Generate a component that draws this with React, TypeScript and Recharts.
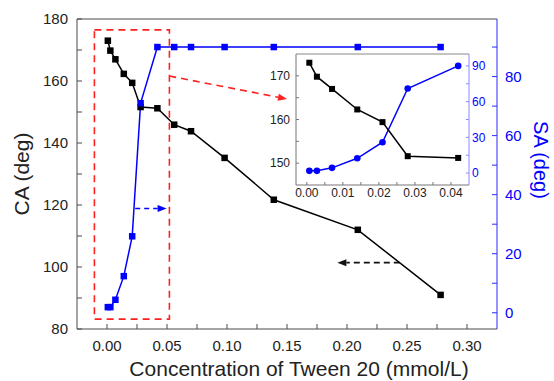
import { ComposedChart, Label, Line, ReferenceArea, ReferenceLine, XAxis, YAxis } from 'recharts'

// Tween 20 concentration (mmol/L) with contact angle and sliding angle
const concentration = [0.0007, 0.0028, 0.007, 0.014, 0.021, 0.028, 0.042, 0.056, 0.07, 0.098, 0.139, 0.209, 0.278]
const contactAngle = [173, 169.8, 167, 162.3, 159.4, 151.6, 151.2, 145.9, 143.8, 135.2, 121.7, 112, 91]
const slidingAngle = [1.9, 1.9, 4.4, 12.4, 25.9, 71, 90, 90, 90, 90, 90, 90, 90]

const xTicks = [0, 0.025, 0.05, 0.075, 0.1, 0.125, 0.15, 0.175, 0.2, 0.225, 0.25, 0.275, 0.3]
const xLabels = [0, 0.05, 0.1, 0.15, 0.2, 0.25, 0.3]
const caTicks = [80, 90, 100, 110, 120, 130, 140, 150, 160, 170, 180]
const caLabels = [80, 100, 120, 140, 160, 180]
const saTicks = [0, 10, 20, 30, 40, 50, 60, 70, 80, 90]
const saLabels = [0, 20, 40, 60, 80]

const insetXTicks = [0, 0.005, 0.01, 0.015, 0.02, 0.025, 0.03, 0.035, 0.04]
const insetXLabels = [0, 0.01, 0.02, 0.03, 0.04]
const insetCaTicks = [150, 155, 160, 165, 170]
const insetCaLabels = [150, 160, 170]
const insetSaTicks = [0, 15, 30, 45, 60, 75, 90]
const insetSaLabels = [0, 30, 60, 90]

const data = concentration.map((c, i) => ({ c, ca: contactAngle[i], sa: slidingAngle[i] }))
const insetData = data.slice(0, 7)

const FONT = '"Liberation Sans", Arial, sans-serif'
const BLUE = '#0000ff'
const AXIS = '#4a4a4a'
const TEXT = '#222'

const fmt = (labels: number[], digits: number) => (v: number) =>
  labels.some((l) => Math.abs(l - v) < 1e-9) ? v.toFixed(digits) : ''

const squareDot = (color: string, size: number) => (props: any) => {
  const { cx, cy, index } = props
  return <rect key={`sq-${index}`} x={cx - size / 2} y={cy - size / 2} width={size} height={size} fill={color} />
}

const circleDot = (color: string, r: number) => (props: any) => {
  const { cx, cy, index } = props
  return <circle key={`c-${index}`} cx={cx} cy={cy} r={r} fill={color} />
}

const arrowShape = (color: string, dash: string) => (props: any) => {
  const { x1, y1, x2, y2 } = props
  const ang = Math.atan2(y2 - y1, x2 - x1)
  const len = 9
  const w = 3.5
  const bx = x2 - len * Math.cos(ang)
  const by = y2 - len * Math.sin(ang)
  const px = -Math.sin(ang) * w
  const py = Math.cos(ang) * w
  return (
    <g>
      <line x1={x1} y1={y1} x2={bx} y2={by} stroke={color} strokeWidth={1.6} strokeDasharray={dash} />
      <polygon points={`${x2},${y2} ${bx + px},${by + py} ${bx - px},${by - py}`} fill={color} />
    </g>
  )
}

function MainChart() {
  return (
    <ComposedChart width={554} height={381} data={data} margin={{ top: 19, right: 0, bottom: 0, left: 0 }}>
      <XAxis
        dataKey="c"
        type="number"
        domain={[-0.025, 0.325]}
        ticks={xTicks}
        tickFormatter={fmt(xLabels, 2)}
        height={52}
        stroke={AXIS}
        tickSize={-5}
        tickMargin={16}
        tick={{ fill: TEXT, fontSize: 15, fontFamily: FONT }}
        interval={0}
      >
        <Label
          content={() => (
            <text x={299} y={376} textAnchor="middle" fill={TEXT} fontSize={21} fontFamily={FONT}>
              Concentration of Tween 20 (mmol/L)
            </text>
          )}
        />
      </XAxis>
      <YAxis
        yAxisId="ca"
        type="number"
        domain={[80, 180]}
        ticks={caTicks}
        tickFormatter={fmt(caLabels, 0)}
        width={77}
        stroke={AXIS}
        tickSize={-5}
        tickMargin={14}
        tick={{ fill: TEXT, fontSize: 15, fontFamily: FONT }}
        interval={0}
      >
        <Label
          content={() => (
            <text
              x={29}
              y={174}
              transform="rotate(-90 29 174)"
              textAnchor="middle"
              fill={TEXT}
              fontSize={21}
              fontFamily={FONT}
            >
              CA (deg)
            </text>
          )}
        />
      </YAxis>
      <YAxis
        yAxisId="sa"
        orientation="right"
        type="number"
        domain={[-5.5, 99.5]}
        ticks={saTicks}
        tickFormatter={fmt(saLabels, 0)}
        width={57}
        stroke="#2a2aff"
        tickSize={-5}
        tickMargin={13}
        tick={{ fill: BLUE, fontSize: 15, fontFamily: FONT }}
        interval={0}
      >
        <Label
          content={() => (
            <text
              x={534}
              y={160}
              transform="rotate(90 534 160)"
              textAnchor="middle"
              fill={BLUE}
              fontSize={20}
              fontFamily={FONT}
            >
              SA (deg)
            </text>
          )}
        />
      </YAxis>
      <ReferenceLine yAxisId="ca" y={180} stroke={AXIS} strokeWidth={1} />
      <ReferenceArea
        yAxisId="ca"
        x1={-0.0105}
        x2={0.052}
        y1={83.2}
        y2={176.5}
        fill="none"
        stroke="#ff2020"
        strokeWidth={1.6}
        strokeDasharray="7 5"
      />
      <ReferenceLine
        yAxisId="ca"
        segment={[{ x: 0.0519, y: 161.6 }, { x: 0.15, y: 154.2 }]}
        shape={arrowShape('#ff2020', '7 5')}
      />
      <ReferenceLine
        yAxisId="sa"
        segment={[{ x: 0.0235, y: 35.3 }, { x: 0.0497, y: 35.3 }]}
        shape={arrowShape(BLUE, '5 4')}
      />
      <ReferenceLine
        yAxisId="ca"
        segment={[{ x: 0.244, y: 101.4 }, { x: 0.192, y: 101.4 }]}
        shape={arrowShape('#111', '6 4')}
      />
      <Line
        yAxisId="ca"
        dataKey="ca"
        type="linear"
        stroke="#000"
        strokeWidth={1.5}
        dot={squareDot('#000', 6.5)}
        isAnimationActive={false}
      />
      <Line
        yAxisId="sa"
        dataKey="sa"
        type="linear"
        stroke={BLUE}
        strokeWidth={1.5}
        dot={squareDot(BLUE, 6.5)}
        isAnimationActive={false}
      />
    </ComposedChart>
  )
}

function InsetChart() {
  return (
    <ComposedChart width={250} height={170} data={insetData} margin={{ top: 14, right: 0, bottom: 0, left: 0 }}>
      <XAxis
        dataKey="c"
        type="number"
        domain={[-0.003, 0.045]}
        ticks={insetXTicks}
        tickFormatter={fmt(insetXLabels, 2)}
        height={25}
        stroke="#777"
        tickSize={-3}
        tickMargin={6}
        tick={{ fill: TEXT, fontSize: 12, fontFamily: FONT }}
        interval={0}
      />
      <YAxis
        yAxisId="ca"
        type="number"
        domain={[145, 175]}
        ticks={insetCaTicks}
        tickFormatter={fmt(insetCaLabels, 0)}
        width={40}
        stroke="#777"
        tickSize={-3}
        tickMargin={9}
        tick={{ fill: TEXT, fontSize: 12, fontFamily: FONT }}
        interval={0}
      />
      <YAxis
        yAxisId="sa"
        orientation="right"
        type="number"
        domain={[-10, 100]}
        ticks={insetSaTicks}
        tickFormatter={fmt(insetSaLabels, 0)}
        width={37}
        stroke="#8a8aff"
        tickSize={-3}
        tickMargin={6}
        tick={{ fill: BLUE, fontSize: 12, fontFamily: FONT }}
        interval={0}
      />
      <ReferenceLine yAxisId="ca" y={175} stroke="#888" strokeWidth={1} />
      <Line
        yAxisId="sa"
        dataKey="sa"
        type="linear"
        stroke={BLUE}
        strokeWidth={1.5}
        dot={circleDot(BLUE, 3.3)}
        isAnimationActive={false}
      />
      <Line
        yAxisId="ca"
        dataKey="ca"
        type="linear"
        stroke="#000"
        strokeWidth={1.5}
        dot={squareDot('#000', 6)}
        isAnimationActive={false}
      />
    </ComposedChart>
  )
}

export default function App() {
  return (
    <div style={{ position: 'absolute', left: 0, top: 0, width: 554, height: 381, background: '#fff' }}>
      <MainChart />
      <div style={{ position: 'absolute', left: 256, top: 40 }}>
        <InsetChart />
      </div>
    </div>
  )
}
